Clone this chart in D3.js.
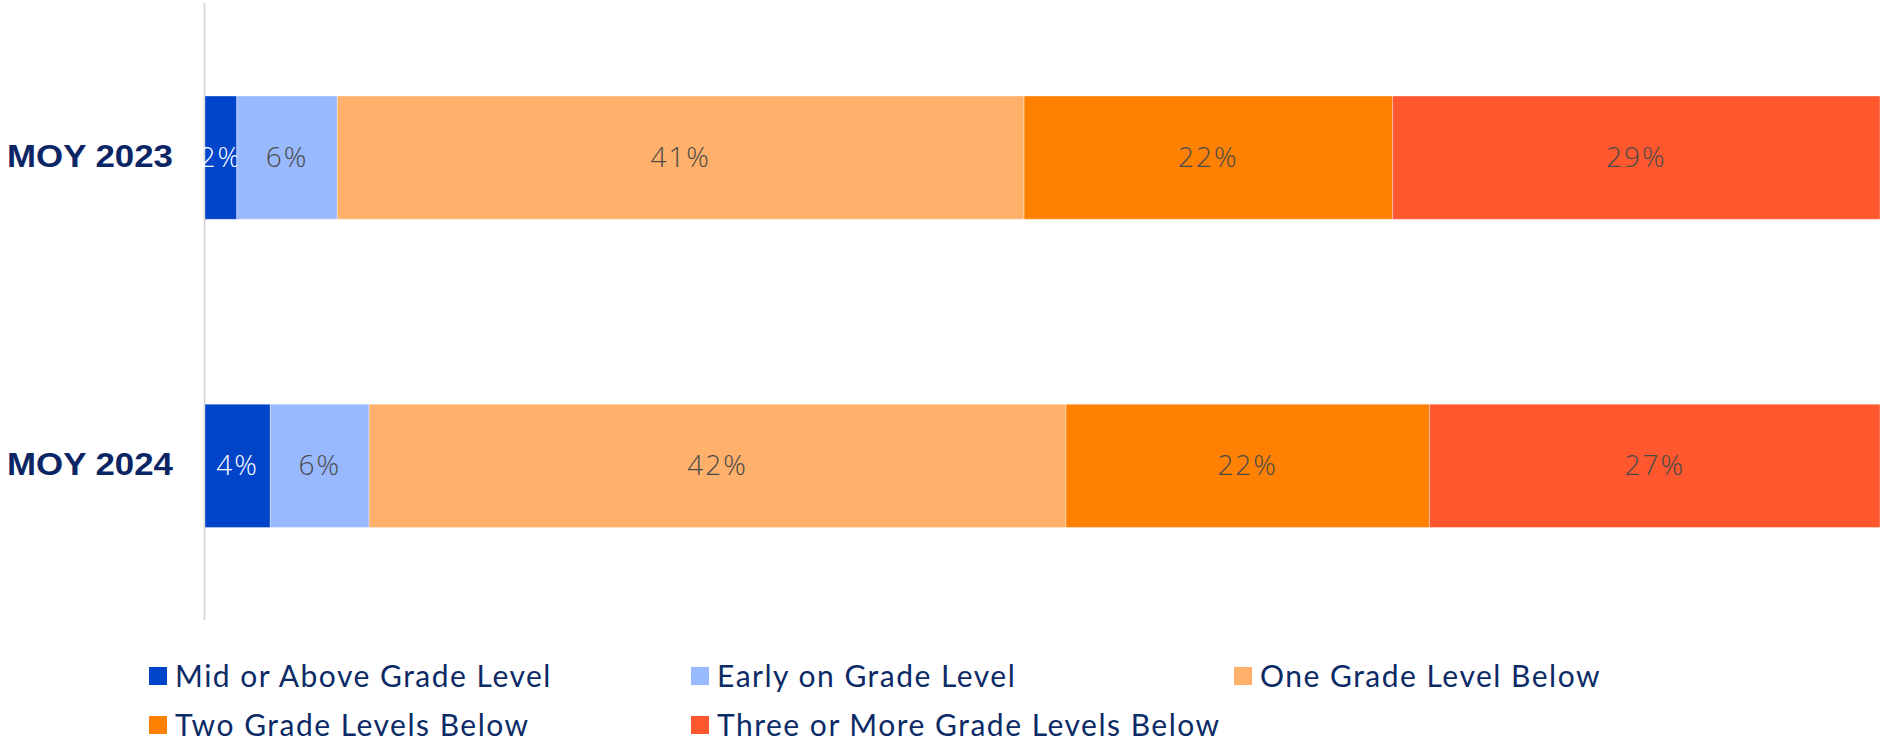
<!DOCTYPE html>
<html>
<head>
<meta charset="utf-8">
<script src="https://cdn.jsdelivr.net/npm/d3@7"></script>
<style>
  body { margin: 0; background: #fff; }
  svg { display: block; }
</style>
</head>
<body>
<svg id="chart" width="1881" height="745"></svg>
<script>
const width = 1881;
const height = 745;
const margin = { top: 0, right: 1, bottom: 0, left: 205 };

// data (percent of students)
const periods = ["MOY 2023", "MOY 2024"];
const levels = [
  "Mid or Above Grade Level",
  "Early on Grade Level",
  "One Grade Level Below",
  "Two Grade Levels Below",
  "Three or More Grade Levels Below"
];
const moy2023 = [1.9, 6.0, 41.0, 22.0, 29.1];
const moy2024 = [3.9, 5.9, 41.6, 21.7, 26.9];
const colors = ["#0044c9", "#99b9ff", "#ffb16b", "#ff8103", "#ff582e"];
const labelColors = ["#ffffff", "#4a4a4a", "#4a4a4a", "#4a4a4a", "#4a4a4a"];

const rows = [moy2023, moy2024].map((vals, i) => {
  const row = { period: periods[i] };
  levels.forEach((k, j) => row[k] = vals[j]);
  return row;
});

const svg = d3.select("#chart");
const stack = d3.stack().keys(levels);
const series = stack(rows);

const x = d3.scaleLinear()
  .domain([0, 100])
  .range([margin.left, width - margin.right]);

const y = d3.scaleBand()
  .domain(periods)
  .range([96, 527.5])
  .paddingInner(0.6)
  .paddingOuter(0);

// left axis line
svg.append("line")
  .attr("x1", margin.left - 0.5).attr("x2", margin.left - 0.5)
  .attr("y1", 3).attr("y2", 620)
  .attr("stroke", "#d9d9d9")
  .attr("stroke-width", 2);

const layer = svg.selectAll("g.layer")
  .data(series)
  .join("g")
  .attr("class", "layer")
  .attr("fill", (d, i) => colors[i]);

layer.selectAll("rect")
  .data(d => d)
  .join("rect")
  .attr("x", d => x(d[0]))
  .attr("y", d => y(d.data.period))
  .attr("width", d => x(d[1]) - x(d[0]))
  .attr("height", y.bandwidth())
  .attr("stroke", "rgba(255,255,255,0.35)")
  .attr("stroke-width", 1);

// value labels
layer.selectAll("text")
  .data((d, i) => d.map(v => ({ v, i })))
  .join("text")
  .attr("x", d => (x(d.v[0]) + x(d.v[1])) / 2)
  .attr("y", d => y(d.v.data.period) + y.bandwidth() / 2)
  .attr("dy", "0.33em")
  .attr("text-anchor", "middle")
  .attr("fill", d => labelColors[d.i])
  .style("font-family", "'Open Sans', sans-serif")
  .style("font-weight", 300)
  .style("font-size", "28px")
  .style("letter-spacing", "2px")
  .text(d => Math.round(d.v[1] - d.v[0]) + "%");

// category labels
svg.selectAll("text.cat")
  .data(periods)
  .join("text")
  .attr("class", "cat")
  .attr("x", 7)
  .attr("y", d => y(d) + y.bandwidth() / 2)
  .attr("dy", "0.3em")
  .attr("fill", "#0b2565")
  .style("font-family", "'Liberation Sans', Arial, sans-serif")
  .style("font-weight", 700)
  .style("font-size", "32px")
  .attr("textLength", 166)
  .attr("lengthAdjust", "spacingAndGlyphs")
  .text(d => d);

// legend
const legendX = [149, 691, 1234];
const legendY = [676, 725];
const legend = svg.selectAll("g.legend")
  .data(levels)
  .join("g")
  .attr("class", "legend")
  .attr("transform", (d, i) => `translate(${legendX[i % 3]},${legendY[Math.floor(i / 3)]})`);

legend.append("rect")
  .attr("x", 0).attr("y", -9)
  .attr("width", 18).attr("height", 18)
  .attr("fill", (d, i) => colors[i]);

legend.append("text")
  .attr("x", 26)
  .attr("dy", "0.36em")
  .attr("fill", "#0b2a66")
  .style("font-family", "Lato, sans-serif")
  .style("font-size", "30px")
  .style("letter-spacing", "1.5px")
  .text(d => d);
</script>
</body>
</html>
